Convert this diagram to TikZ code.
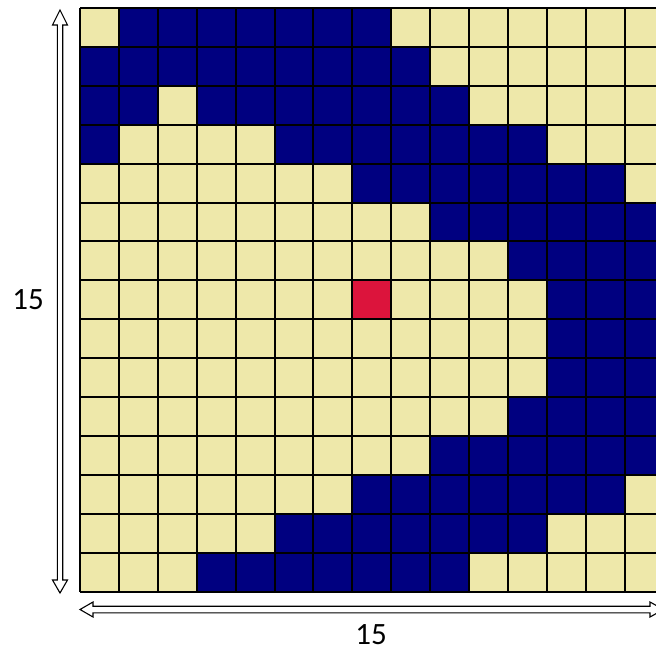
\documentclass[tikz,border=0pt]{standalone}
\usepackage{fontspec}
\setmainfont{Carlito}
\definecolor{c0}{HTML}{EEE8AA}
\definecolor{c1}{HTML}{000080}
\definecolor{c2}{HTML}{DC143C}
\begin{document}
\begin{tikzpicture}[x=1pt,y=-1pt,
  gridline/.style={line width=2pt},
  fatarrow/.style={draw=black,fill=white,line width=1.1pt,line join=miter},
  dimlabel/.style={font=\fontsize{31}{36}\selectfont,inner sep=0pt}]
\useasboundingbox (0,0) rectangle (656,653);
\def\s{38.9}
\foreach \row [count=\r from 0] in {
 {0,1,1,1,1,1,1,1,0,0,0,0,0,0,0},
 {1,1,1,1,1,1,1,1,1,0,0,0,0,0,0},
 {1,1,0,1,1,1,1,1,1,1,0,0,0,0,0},
 {1,0,0,0,0,1,1,1,1,1,1,1,0,0,0},
 {0,0,0,0,0,0,0,1,1,1,1,1,1,1,0},
 {0,0,0,0,0,0,0,0,0,1,1,1,1,1,1},
 {0,0,0,0,0,0,0,0,0,0,0,1,1,1,1},
 {0,0,0,0,0,0,0,2,0,0,0,0,1,1,1},
 {0,0,0,0,0,0,0,0,0,0,0,0,1,1,1},
 {0,0,0,0,0,0,0,0,0,0,0,0,1,1,1},
 {0,0,0,0,0,0,0,0,0,0,0,1,1,1,1},
 {0,0,0,0,0,0,0,0,0,1,1,1,1,1,1},
 {0,0,0,0,0,0,0,1,1,1,1,1,1,1,0},
 {0,0,0,0,0,1,1,1,1,1,1,1,0,0,0},
 {0,0,0,1,1,1,1,1,1,1,0,0,0,0,0}} {
  \foreach \v [count=\c from 0] in \row {
    \fill[c\v] ({80+\c*\s},{8+\r*\s}) rectangle ++(\s,\s);
  }
}
\foreach \i in {0,...,15} {
  \draw[gridline] ({80+\i*\s},8) -- ({80+\i*\s},{8+15*\s});
  \draw[gridline] (80,{8+\i*\s}) -- ({80+15*\s},{8+\i*\s});
}
% vertical double arrow
\draw[fatarrow] (60,10) -- (67.5,25) -- (62.7,25) -- (62.7,580) -- (67.5,580) -- (60,593)
  -- (52.5,580) -- (57.3,580) -- (57.3,25) -- (52.5,25) -- cycle;
% horizontal double arrow
\draw[fatarrow] (80,609.5) -- (93,602) -- (93,606.2) -- (650,606.2) -- (650,602) -- (663.5,609.5)
  -- (650,617) -- (650,612.8) -- (93,612.8) -- (93,617) -- cycle;
\node[dimlabel] (lv) at (28,300) {15};
\node[dimlabel] (lh) at (371,635) {15};
\end{tikzpicture}
\end{document}
